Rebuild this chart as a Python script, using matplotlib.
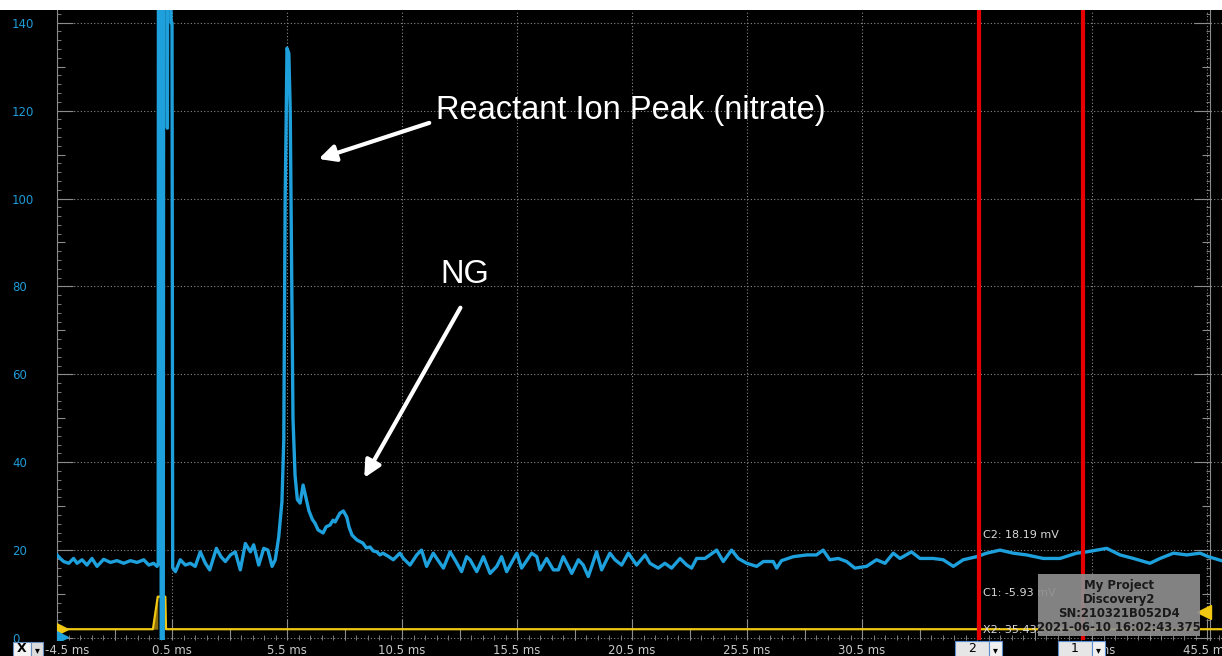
import matplotlib.pyplot as plt
from matplotlib.patches import Rectangle
from matplotlib.ticker import FixedLocator, MultipleLocator

# channel 2 (blue) trace: time in ms, amplitude in mV
trace_time = [
    -4.5, -4.36, -4.21, -3.99, -3.78, -3.63, -3.41, -3.2, -2.98, -2.76,
    -2.47, -2.18, -1.89, -1.6, -1.31, -1.02, -0.73, -0.51, -0.3, -0.15,
    -0.1, -0.09, 0.01, 0.03, 0.12, 0.14, 0.28, 0.30, 0.32, 0.44, 0.46, 0.50, 0.53,
    0.65, 0.86, 1.08, 1.3, 1.51, 1.73, 1.95, 2.14, 2.43, 2.63, 2.82, 3.04,
    3.25, 3.47, 3.69, 3.91, 4.05, 4.27, 4.49, 4.67, 4.85, 4.99, 5.14,
    5.28, 5.36, 5.42, 5.46, 5.5, 5.58, 5.64, 5.7, 5.76, 5.85, 5.95, 6.07,
    6.2, 6.3, 6.45, 6.6, 6.72, 6.85, 7.07, 7.2, 7.37, 7.5, 7.59, 7.8, 7.95,
    8.1, 8.2, 8.33, 8.54, 8.8, 8.95, 9.11, 9.25, 9.41, 9.54, 9.67, 9.9,
    10.12, 10.41, 10.56, 10.85, 11.14, 11.35, 11.57, 11.86, 12.01, 12.3,
    12.59, 12.8, 13.09, 13.31, 13.46, 13.75, 14.04, 14.33, 14.62, 14.83,
    15.05, 15.49, 15.7, 16.14, 16.36, 16.5, 16.79, 17.08, 17.3, 17.51,
    17.73, 17.88, 18.17, 18.38, 18.6, 18.75, 18.96, 19.18, 19.54, 19.76,
    20.05, 20.34, 20.7, 21.07, 21.28, 21.64, 21.93, 22.22, 22.59, 22.88,
    23.09, 23.31, 23.67, 23.89, 24.18, 24.47, 24.83, 25.12, 25.49, 25.92,
    26.21, 26.64, 26.79, 27.0, 27.51, 28.09, 28.52, 28.81, 29.1, 29.47,
    29.83, 30.19, 30.7, 31.13, 31.5, 31.86, 32.15, 32.65, 33.02, 33.6,
    34.03, 34.47, 34.9, 35.48, 35.92, 36.5, 37.08, 37.66, 38.38, 39.11,
    39.83, 40.27, 40.7, 41.14, 41.72, 42.3, 43.02, 43.46, 44.04, 44.62,
    45.2, 45.56, 46.2,
]
trace_mv = [
    18.9, 18.1, 17.4, 17.0, 18.1, 17.0, 17.8, 16.6, 18.1, 16.3,
    17.9, 17.2, 17.6, 17.0, 17.6, 17.2, 17.8, 16.6, 17.0, 16.3,
    16.8, 170, 170, -0.8, -0.8, 170, 170, 116, 170, 170, 140, 140, 16.0,
    15.1, 17.8, 16.6, 17.0, 16.3, 19.6, 17.0, 15.5, 20.4, 18.5, 17.4, 18.9,
    19.6, 15.5, 21.5, 19.6, 21.2, 16.6, 20.4, 20.0, 16.3, 17.8, 23.0,
    31.0, 45.0, 100.0, 116.0, 134.2, 133.0, 120.0, 85.0, 50.0, 37.0, 31.5, 30.7,
    34.8, 32.5, 29.0, 27.0, 26.1, 24.6, 23.9, 25.3, 25.7, 26.8, 26.4, 28.4, 28.9,
    27.5, 25.2, 23.4, 22.3, 21.6, 20.5, 20.7, 19.8, 19.6, 18.9, 19.3, 18.6,
    17.8, 19.3, 18.1, 16.6, 18.9, 20.0, 16.3, 19.3, 18.1, 15.9,
    19.6, 17.8, 15.1, 18.5, 17.8, 15.1, 18.5, 14.7, 16.3, 18.5,
    15.1, 19.3, 15.9, 19.3, 18.5, 15.5, 18.1, 15.5, 15.5, 18.5,
    16.3, 14.7, 17.8, 16.6, 14.0, 16.3, 19.6, 15.5, 19.3, 17.8,
    16.6, 19.3, 16.6, 18.9, 17.0, 15.9, 17.0, 15.9, 18.1, 16.6,
    15.9, 18.1, 18.1, 18.9, 20.0, 17.4, 20.0, 18.1, 17.0, 16.3,
    17.4, 17.4, 15.9, 17.6, 18.5, 18.9, 18.9, 20.0, 17.8, 18.1,
    17.4, 15.9, 16.3, 17.8, 17.0, 19.3, 18.1, 19.6, 18.1, 18.1,
    17.8, 16.3, 17.8, 18.5, 19.3, 20.0, 19.3, 18.9, 18.1, 18.1,
    19.3, 19.6, 20.0, 20.4, 18.9, 18.1, 17.0, 18.1, 19.3, 18.9,
    19.3, 18.5, 17.5,
]

# channel 1 (yellow) trigger pulse
pulse_time = [-4.5, -0.33, -0.12, 0.21, 0.24, 46.2]
pulse_mv = [2.0, 2.0, 9.4, 9.4, 2.0, 2.0]

cursor_times = [35.59, 40.11]
xtick_values = [-4.5, 0.5, 5.5, 10.5, 15.5, 20.5, 25.5, 30.5, 35.5, 40.5, 45.5]
# -4.5 is drawn separately (left aligned), 35.5 sits under the cursor widget
xtick_labels = ["", "0.5 ms", "5.5 ms", "10.5 ms", "15.5 ms", "20.5 ms",
                "25.5 ms", "30.5 ms", "", "40.5 ms", "45.5 ms"]
xtick_mid = [-2.0, 3.0, 8.0, 13.0, 18.0, 23.0, 28.0, 33.0, 38.0, 43.0]
ytick_values = [0, 20, 40, 60, 80, 100, 120, 140]
ytick_mid = [10, 30, 50, 70, 90, 110, 130]
info_lines = ["My Project", "Discovery2", "SN:210321B052D4", "2021-06-10 16:02:43.375"]

W, H = 1222, 656
BLUE = "#1ea0dc"
YELLOW = "#f0c814"
GRAY = "#8c8c8c"
LABEL_GRAY = "#c8c8c8"


def fig_box(x0, y0, x1, y1, **kw):
    # pixel box measured from the top-left corner of the picture
    rect = Rectangle((x0 / W, 1 - y1 / H), (x1 - x0) / W, (y1 - y0) / H,
                     transform=fig.transFigure, **kw)
    fig.add_artist(rect)


def fig_text(x, y, s, ha="center", **kw):
    fig.text(x / W, 1 - y / H, s, ha=ha, va="center", **kw)


fig = plt.figure(figsize=(W / 100, H / 100), dpi=100, facecolor="black")
ax = fig.add_axes([57 / W, 16 / H, (W - 57) / W, (H - 26) / H])
ax.set_facecolor("black")
ax.set_xlim(-4.5, -4.5 + (W - 57) / 23)
ax.set_ylim(-2 / 4.394, 140 + 12.7 / 4.394)
ax.set_axisbelow(True)

ax.fill_between(pulse_time[1:3], pulse_mv[0], pulse_mv[1:3], color="#8a6d0a", lw=0)
ax.plot(pulse_time, pulse_mv, color=YELLOW, lw=1.6, zorder=2)
ax.plot(trace_time, trace_mv, color=BLUE, lw=2.4, zorder=3)
for t in cursor_times:
    ax.axvline(t, color="#e60000", lw=3, zorder=4)

# channel markers
ax.plot([-4.28], [pulse_mv[0]], marker=">", color=YELLOW, ms=8, zorder=5)
ax.plot([-4.28], [0.2], marker=">", color=BLUE, ms=8, zorder=5)
ax.plot([45.35], [5.9], marker="<", color=YELLOW, ms=10, zorder=6)

# axes styling
for side in ["top", "right", "bottom"]:
    ax.spines[side].set_visible(False)
ax.spines["left"].set_color(GRAY)
ax.grid(True, which="major", color="#8a8a8a", ls=(0, (1, 2)), lw=0.8)

ax.xaxis.set_major_locator(FixedLocator(xtick_values))
ax.set_xticklabels(xtick_labels)
ax.xaxis.set_minor_locator(MultipleLocator(0.5))
ax.tick_params(axis="x", which="major", direction="in", length=15, color=GRAY,
               labelcolor=LABEL_GRAY, labelsize=8.5, pad=3)
ax.tick_params(axis="x", which="minor", direction="in", length=3.6, color=GRAY)

ax.yaxis.set_major_locator(FixedLocator(ytick_values))
ax.yaxis.set_minor_locator(MultipleLocator(2))
ax.tick_params(axis="y", which="major", direction="in", length=11.5, color=GRAY,
               labelcolor="#1e9bd7", labelsize=8.5, pad=32.4)
ax.tick_params(axis="y", which="minor", direction="in", length=3, color=GRAY)
plt.setp(ax.get_yticklabels(), ha="left")

secx = ax.secondary_xaxis("bottom")
secx.set_xticks(xtick_mid)
secx.tick_params(direction="in", length=8.6, color=GRAY, labelbottom=False)
secx.spines["bottom"].set_visible(False)

secl = ax.secondary_yaxis("left")
secl.set_yticks(ytick_mid)
secl.tick_params(direction="in", length=5.8, color=GRAY, labelleft=False)
secl.spines["left"].set_visible(False)

right_pos = (1210 - 57) / (W - 57)
secr = ax.secondary_yaxis(right_pos)
secr.yaxis.set_major_locator(FixedLocator(ytick_values))
secr.yaxis.set_minor_locator(MultipleLocator(2))
secr.tick_params(which="major", direction="in", length=11.5, color=GRAY, labelright=False)
secr.tick_params(which="minor", direction="in", length=3, color=GRAY, labelright=False)
secr.spines["right"].set_color(GRAY)

secr2 = ax.secondary_yaxis(right_pos)
secr2.set_yticks(ytick_mid)
secr2.tick_params(direction="in", length=5.8, color=GRAY, labelright=False)
secr2.spines["right"].set_visible(False)

# annotations
ax.text(12.0, 120.1, "Reactant Ion Peak (nitrate)", color="white", fontsize=23.5,
        family="Liberation Sans", va="center")
ax.annotate("", xy=(6.76, 108.8), xytext=(11.8, 117.4),
            arrowprops=dict(arrowstyle="-|>", color="white", lw=3, mutation_scale=25))
ax.text(12.15, 82.6, "NG", color="white", fontsize=23.5, family="Liberation Sans",
        va="center")
ax.annotate("", xy=(8.8, 35.9), xytext=(13.1, 75.7),
            arrowprops=dict(arrowstyle="-|>", color="white", lw=3, mutation_scale=25))

# cursor readouts
ax.text(35.76, 23.4, "C2: 18.19 mV", color="#d8d8d8", fontsize=8, va="center")
ax.text(35.76, 10.2, "C1: -5.93 mV", color="#d8d8d8", fontsize=8, va="center")
ax.text(35.76, 1.8, "X2: 35.432 ms", color="#d8d8d8", fontsize=8, va="center", zorder=6)

# device info box
fig_box(1038, 574, 1200, 636, facecolor="#8e8e8e", alpha=0.92, lw=0)
for i, line in enumerate(info_lines):
    fig_text(1119, 585 + 14.3 * i, line, color="#1a1a1a", fontsize=8.4,
             fontweight="bold")

# bottom widgets and the left-aligned first time label
fig_text(45, 650, "-4.5 ms", ha="left", color=LABEL_GRAY, fontsize=8.5)
fig_box(13, 642, 31, 657, facecolor="#f4f4f4", edgecolor="#6a8fc0", lw=0.8)
fig_box(31, 642, 43, 657, facecolor="#dcdcdc", edgecolor="#6a8fc0", lw=0.8)
fig_text(22, 649, "X", color="black", fontsize=9, fontweight="bold")
fig_text(37, 650, "▾", color="black", fontsize=7)
for x0, label in [(955, "2"), (1058, "1")]:
    fig_box(x0, 641, x0 + 34, 657, facecolor="#e6e6e6", edgecolor="#5b8bd0", lw=0.8)
    fig_box(x0 + 34, 641, x0 + 47, 657, facecolor="#f0f0f0", edgecolor="#5b8bd0", lw=0.8)
    fig_text(x0 + 17, 649, label, color="black", fontsize=9)
    fig_text(x0 + 40.5, 650, "▾", color="black", fontsize=7)

# white strip along the top edge
fig_box(0, 0, W, 10, facecolor="white", lw=0, zorder=10)

fig.savefig("out.png", dpi=100, facecolor=fig.get_facecolor())
